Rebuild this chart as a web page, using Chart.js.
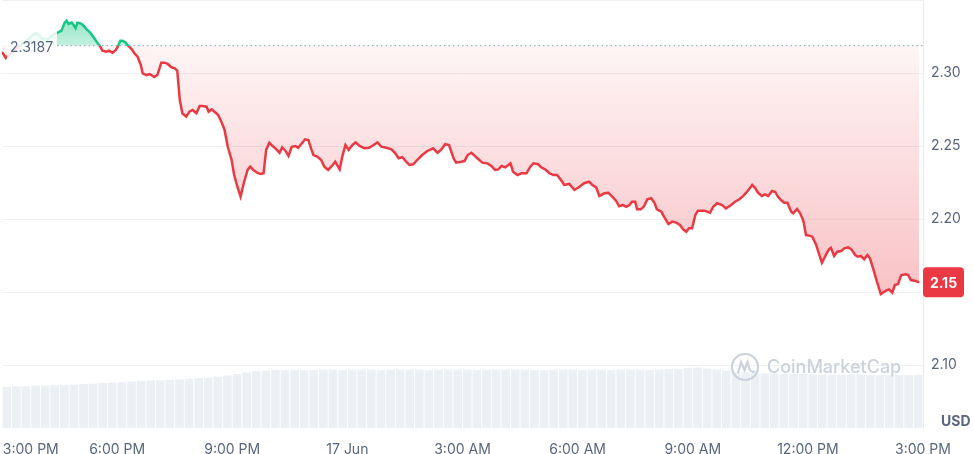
<!DOCTYPE html>
<html>
<head>
<meta charset="utf-8">
<script src="https://cdn.jsdelivr.net/npm/chart.js@4/dist/chart.umd.min.js"></script>
<style>
  html, body { margin: 0; padding: 0; background: #fff; }
  #wrap { width: 973px; height: 454px; position: relative; }
</style>
</head>
<body>
<div id="wrap"><canvas id="priceChart"></canvas></div>
<script>
// minutes after 3:00 PM (16 Jun) and price in USD
const minutes = [
  0, 6, 12, 23, 32, 40, 48, 54, 62, 70,
  79, 82, 87, 93, 98, 101, 104, 109, 112, 115,
  118, 123, 128, 132, 138, 143, 148, 153, 157, 163,
  167, 173, 178, 181, 185, 188, 193, 196, 203, 207,
  212, 217, 220, 226, 231, 238, 243, 249, 254, 259,
  265, 270, 274, 278, 282, 288, 293, 298, 304, 309,
  313, 320, 323, 328, 334, 338, 343, 348, 353, 359,
  363, 368, 373, 378, 384, 388, 393, 399, 404, 409,
  413, 418, 423, 429, 434, 438, 443, 448, 453, 459,
  463, 468, 474, 479, 484, 487, 493, 499, 504, 510,
  517, 521, 528, 532, 537, 542, 548, 553, 559, 567,
  574, 581, 587, 593, 601, 609, 615, 620, 626, 632,
  637, 643, 649, 657, 665, 674, 681, 687, 693, 699,
  706, 710, 718, 723, 728, 734, 738, 745, 751, 759,
  765, 771, 776, 781, 787, 795, 799, 806, 812, 820,
  826, 831, 838, 843, 849, 856, 862, 868, 874, 879,
  887, 895, 903, 910, 918, 923, 929, 934, 942, 948,
  954, 960, 965, 970, 976, 981, 985, 990, 993, 999,
  1004, 1009, 1015, 1020, 1024, 1031, 1035, 1042, 1048, 1054,
  1060, 1065, 1070, 1074, 1079, 1084, 1088, 1098, 1107, 1112,
  1118, 1126, 1132, 1140, 1146, 1153, 1159, 1165, 1173, 1178,
  1182, 1188, 1193, 1198, 1204, 1209, 1213, 1218, 1223, 1228,
  1234, 1237, 1243, 1248, 1253, 1257, 1262, 1267, 1273, 1278,
  1282, 1288, 1293, 1296, 1301, 1306, 1312, 1317, 1323, 1328,
  1334, 1338, 1343, 1348, 1353, 1357, 1362, 1368, 1374, 1382,
  1387, 1392, 1396, 1401, 1406, 1413, 1417, 1421, 1429, 1434,
];

const prices = [
  2.3144, 2.3103, 2.3130, 2.3171, 2.3199, 2.3226, 2.3260, 2.3274, 2.3240, 2.3226,
  2.3260, 2.3267, 2.3276, 2.3290, 2.3345, 2.3358, 2.3336, 2.3345, 2.3329, 2.3308,
  2.3345, 2.3340, 2.3322, 2.3301, 2.3276, 2.3247, 2.3214, 2.3185, 2.3153, 2.3146,
  2.3153, 2.3139, 2.3158, 2.3180, 2.3221, 2.3221, 2.3210, 2.3192, 2.3162, 2.3135,
  2.3112, 2.3055, 2.2998, 2.2986, 2.2993, 2.2973, 2.2986, 2.3071, 2.3071, 2.3062,
  2.3039, 2.3032, 2.3016, 2.2815, 2.2724, 2.2701, 2.2735, 2.2747, 2.2724, 2.2774,
  2.2774, 2.2769, 2.2735, 2.2751, 2.2728, 2.2712, 2.2666, 2.2610, 2.2495, 2.2404,
  2.2301, 2.2221, 2.2153, 2.2245, 2.2336, 2.2358, 2.2336, 2.2317, 2.2308, 2.2313,
  2.2473, 2.2523, 2.2500, 2.2477, 2.2454, 2.2491, 2.2468, 2.2432, 2.2495, 2.2500,
  2.2488, 2.2514, 2.2546, 2.2541, 2.2473, 2.2438, 2.2427, 2.2404, 2.2358, 2.2336,
  2.2370, 2.2392, 2.2340, 2.2427, 2.2507, 2.2473, 2.2507, 2.2525, 2.2500, 2.2484,
  2.2488, 2.2507, 2.2525, 2.2495, 2.2488, 2.2477, 2.2450, 2.2416, 2.2423, 2.2392,
  2.2370, 2.2375, 2.2404, 2.2438, 2.2466, 2.2484, 2.2454, 2.2477, 2.2512, 2.2507,
  2.2416, 2.2386, 2.2392, 2.2397, 2.2438, 2.2454, 2.2438, 2.2409, 2.2386, 2.2381,
  2.2363, 2.2336, 2.2340, 2.2363, 2.2354, 2.2381, 2.2324, 2.2301, 2.2313, 2.2313,
  2.2358, 2.2381, 2.2375, 2.2354, 2.2340, 2.2313, 2.2301, 2.2301, 2.2267, 2.2233,
  2.2240, 2.2199, 2.2221, 2.2245, 2.2255, 2.2233, 2.2217, 2.2158, 2.2176, 2.2180,
  2.2153, 2.2125, 2.2087, 2.2096, 2.2084, 2.2096, 2.2118, 2.2118, 2.2066, 2.2066,
  2.2089, 2.2135, 2.2142, 2.2112, 2.2066, 2.2050, 2.2016, 2.1966, 2.1982, 2.1975,
  2.1959, 2.1929, 2.1913, 2.1936, 2.1936, 2.2027, 2.2057, 2.2057, 2.2043, 2.2084,
  2.2108, 2.2096, 2.2073, 2.2096, 2.2118, 2.2135, 2.2158, 2.2187, 2.2233, 2.2210,
  2.2180, 2.2158, 2.2169, 2.2158, 2.2192, 2.2185, 2.2154, 2.2130, 2.2112, 2.2112,
  2.2050, 2.2039, 2.2068, 2.2039, 2.1988, 2.1890, 2.1886, 2.1879, 2.1822, 2.1753,
  2.1701, 2.1753, 2.1792, 2.1803, 2.1747, 2.1776, 2.1781, 2.1799, 2.1806, 2.1792,
  2.1753, 2.1742, 2.1747, 2.1724, 2.1753, 2.1731, 2.1662, 2.1571, 2.1486, 2.1509,
  2.1518, 2.1495, 2.1548, 2.1555, 2.1616, 2.1621, 2.1616, 2.1582, 2.1575, 2.1566,
];

// 24h volume in millions USD, one value per 15 minute bucket
const volume = [
  77, 78, 78, 79, 79, 80, 80, 81, 82, 83,
  84, 85, 86, 87, 88, 89, 89, 90, 91, 92,
  93, 94, 96, 98, 101, 104, 106, 107, 108, 108,
  109, 108, 108, 109, 109, 108, 109, 109, 109, 108,
  109, 109, 109, 109, 108, 109, 109, 109, 109, 108,
  109, 109, 109, 109, 109, 108, 108, 109, 109, 109,
  108, 109, 109, 108, 109, 109, 109, 108, 109, 110,
  110, 112, 113, 111, 109, 107, 105, 104, 103, 102,
  102, 101, 101, 101, 100, 100, 100, 100, 100, 100,
  99, 99, 99, 99, 99, 99,
];

const openPrice = 2.3187;
const tickMinutes = [45, 180, 360, 540, 720, 900, 1080, 1260, 1440];
const tickLabels = ["3:00 PM", "6:00 PM", "9:00 PM", "17 Jun", "3:00 AM", "6:00 AM", "9:00 AM", "12:00 PM", "3:00 PM"];
const priceTicks = [2.10, 2.15, 2.20, 2.25, 2.30];

const RED = "#ea3943";
const GREEN = "#16c784";
const TEXT = "#58667e";

const pricePoints = minutes.map((m, i) => ({ x: m, y: prices[i] }));
const volumePoints = volume.map((v, i) => ({ x: i * 15 + 7.5, y: v }));

// colours that depend on where the open price sits on the canvas
const splitColours = {
  id: "splitColours",
  afterLayout(chart) {
    const { ctx, chartArea: a, scales } = chart;
    const yb = scales.y.getPixelForValue(openPrice);
    const f = Math.min(Math.max((yb - a.top) / (a.bottom - a.top), 0), 1);

    const stroke = ctx.createLinearGradient(0, a.top, 0, a.bottom);
    stroke.addColorStop(0, GREEN);
    stroke.addColorStop(f, GREEN);
    stroke.addColorStop(f, RED);
    stroke.addColorStop(1, RED);

    const up = ctx.createLinearGradient(0, a.top + 15, 0, yb);
    up.addColorStop(0, "rgba(22, 199, 132, 0.48)");
    up.addColorStop(1, "rgba(22, 199, 132, 0.26)");

    const down = ctx.createLinearGradient(0, yb, 0, scales.y.getPixelForValue(2.14));
    down.addColorStop(0, "rgba(234, 57, 67, 0.05)");
    down.addColorStop(1, "rgba(234, 57, 67, 0.32)");

    const ds = chart.data.datasets[0];
    ds.borderColor = stroke;
    ds.fill = { target: { value: openPrice }, above: up, below: down };
  },
};

const overlay = {
  id: "overlay",
  afterDatasetsDraw(chart) {
    const { ctx, chartArea: a, scales } = chart;
    const yb = scales.y.getPixelForValue(openPrice);
    ctx.save();

    // open price: dotted line and label
    ctx.fillStyle = "rgba(255, 255, 255, 0.85)";
    ctx.fillRect(a.left + 5, yb - 16, 50, 32);
    ctx.strokeStyle = "#a7b1c2";
    ctx.lineWidth = 1.2;
    ctx.setLineDash([1.5, 3]);
    ctx.beginPath();
    ctx.moveTo(a.left + 55, yb);
    ctx.lineTo(a.right, yb);
    ctx.stroke();
    ctx.setLineDash([]);
    ctx.fillStyle = TEXT;
    ctx.font = "14px Inter";
    ctx.textAlign = "left";
    ctx.textBaseline = "middle";
    ctx.fillText(openPrice.toFixed(4), a.left + 8, yb + 2);

    // watermark
    const cx = a.right - 178, cy = a.bottom - 61;
    ctx.strokeStyle = "#cbd2dc";
    ctx.lineWidth = 2.2;
    ctx.beginPath();
    ctx.arc(cx, cy, 13, 0, Math.PI * 2);
    ctx.stroke();
    ctx.beginPath();
    ctx.moveTo(cx - 7, cy + 6);
    ctx.lineTo(cx - 4, cy - 5);
    ctx.lineTo(cx - 0.5, cy + 3);
    ctx.lineTo(cx + 2.5, cy - 5);
    ctx.lineTo(cx + 5, cy + 3);
    ctx.quadraticCurveTo(cx + 7, cy + 6, cx + 10, cy + 4);
    ctx.stroke();
    ctx.fillStyle = "#cbd2dc";
    ctx.font = "500 18px Inter";
    ctx.fillText("CoinMarketCap", cx + 22, cy + 1);

    // current price badge (price cut to two decimals)
    const last = prices[prices.length - 1];
    const yl = scales.y.getPixelForValue(last);
    ctx.fillStyle = RED;
    ctx.beginPath();
    ctx.roundRect(a.right, yl - 15, 41, 30, 4);
    ctx.fill();
    ctx.fillStyle = "#fff";
    ctx.font = "bold 14px Inter";
    ctx.textAlign = "center";
    ctx.fillText((Math.floor(last * 100) / 100).toFixed(2), a.right + 20.5, yl + 1);

    // currency
    ctx.fillStyle = TEXT;
    ctx.textAlign = "left";
    ctx.fillText("USD", a.right + 18, a.bottom - 6);
    ctx.restore();
  },
};

new Chart(document.getElementById("priceChart"), {
  type: "line",
  data: {
    datasets: [
      {
        label: "Price",
        data: pricePoints,
        borderColor: RED,
        borderWidth: 2.5,
        pointRadius: 0,
        tension: 0,
        fill: false,
        order: 0,
      },
      {
        type: "bar",
        label: "Volume",
        data: volumePoints,
        yAxisID: "yVol",
        backgroundColor: "#eceff3",
        barPercentage: 0.9,
        categoryPercentage: 1,
        order: 1,
      },
    ],
  },
  options: {
    responsive: true,
    maintainAspectRatio: false,
    animation: false,
    events: [],
    layout: { padding: { left: 2, top: 0, right: 0, bottom: 0 } },
    plugins: {
      legend: { display: false },
      tooltip: { enabled: false },
    },
    scales: {
      x: {
        type: "linear",
        min: 0,
        max: 1440,
        offset: false,
        grid: { display: false, offset: false },
        border: { display: false },
        afterBuildTicks: (scale) => {
          scale.ticks = tickMinutes.map((value) => ({ value }));
        },
        afterFit: (scale) => {
          scale.paddingLeft = 0;
          scale.paddingRight = 0;
          scale.height = 26;
        },
        ticks: {
          autoSkip: false,
          maxRotation: 0,
          padding: 5,
          color: TEXT,
          font: { family: "Inter", size: 14 },
          callback: (value, index) => tickLabels[index],
        },
      },
      y: {
        position: "right",
        min: 2.05685,
        max: 2.35,
        afterBuildTicks: (scale) => {
          scale.ticks = [...priceTicks, 2.35].map((value) => ({ value }));
        },
        afterFit: (scale) => {
          scale.width = 50;
          scale.paddingTop = 0;
          scale.paddingBottom = 0;
        },
        grid: { color: "#eff1f4", drawTicks: false },
        border: { display: true, color: "#e8ebef" },
        ticks: {
          padding: 8,
          color: TEXT,
          font: { family: "Inter", size: 14 },
          callback: (value) => (priceTicks.includes(value) ? value.toFixed(2) : ""),
        },
      },
      yVol: {
        display: false,
        min: 0,
        max: 800,
      },
    },
  },
  plugins: [splitColours, overlay],
});
</script>
</body>
</html>
